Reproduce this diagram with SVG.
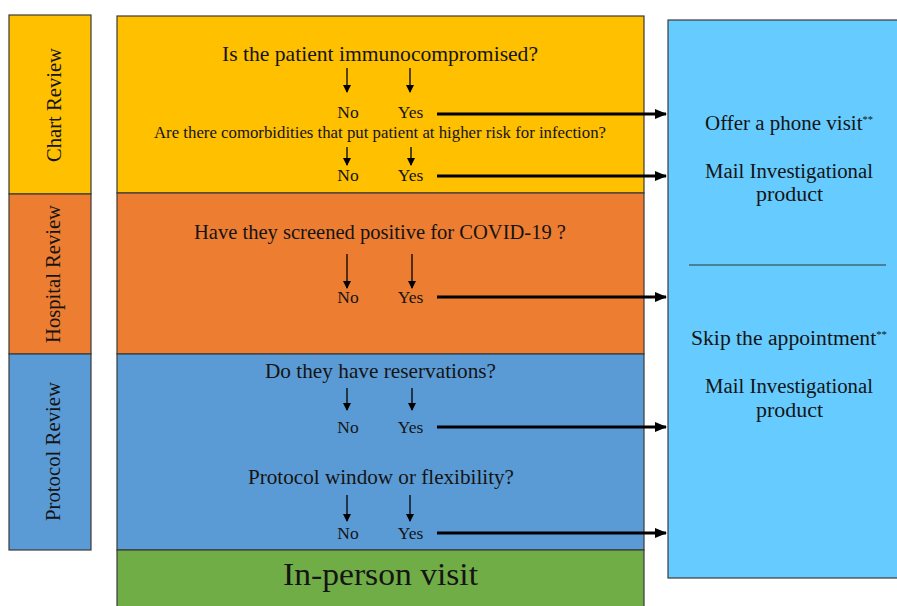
<svg xmlns="http://www.w3.org/2000/svg" width="897" height="606" viewBox="0 0 897 606">
<style>
text{font-family:"Liberation Serif","DejaVu Serif",serif;fill:#141414}
.box{stroke:#3a3a3a;stroke-width:1.2}
.q{font-size:21px;text-anchor:middle}
.yn{font-size:17.5px;text-anchor:middle}
.side{font-size:20px;text-anchor:middle}
.r{font-size:20px;text-anchor:middle}
.big{stroke:#000;stroke-width:3;fill:none}
.dn{stroke:#000;stroke-width:1.3;fill:none}
</style>
<defs>
<marker id="ah" markerWidth="8" markerHeight="8" refX="7" refY="4" orient="auto" markerUnits="userSpaceOnUse" viewBox="0 0 8 8"><path d="M0,0 L8,4 L0,8 z" fill="#000"/></marker>
<marker id="sh" markerWidth="12" markerHeight="12" refX="11" refY="6" orient="auto" markerUnits="userSpaceOnUse" viewBox="0 0 12 12"><path d="M0,1 L12,6 L0,11 z" fill="#000"/></marker>
</defs>
<rect width="897" height="606" fill="#fff"/>
<g id="side-chart"><rect class="box" x="9" y="15" width="82" height="179" fill="#FFC000"/><text class="side" transform="translate(61,105) rotate(-90)" textLength="114" lengthAdjust="spacingAndGlyphs">Chart Review</text></g>
<g id="side-hospital"><rect class="box" x="9" y="194" width="82" height="160" fill="#ED7D31"/><text class="side" transform="translate(60,274) rotate(-90)" textLength="138" lengthAdjust="spacingAndGlyphs">Hospital Review</text></g>
<g id="side-protocol"><rect class="box" x="9" y="354" width="82" height="196" fill="#5B9BD5"/><text class="side" transform="translate(60,451.5) rotate(-90)" textLength="139" lengthAdjust="spacingAndGlyphs">Protocol Review</text></g>
<g id="chart"><rect class="box" x="117" y="16" width="527" height="177" fill="#FFC000"/>
<text class="q" x="380" y="61" textLength="316" lengthAdjust="spacingAndGlyphs">Is the patient immunocompromised?</text>
<text class="yn" x="348" y="118">No</text><text class="yn" x="410.5" y="118">Yes</text>
<text x="380" y="138" style="font-size:16.5px;text-anchor:middle" textLength="452" lengthAdjust="spacingAndGlyphs">Are there comorbidities that put patient at higher risk for infection?</text>
<text class="yn" x="348" y="181">No</text><text class="yn" x="410.5" y="181">Yes</text></g>
<g id="hospital"><rect class="box" x="117" y="193" width="527" height="161" fill="#ED7D31"/>
<text class="q" x="380" y="239" textLength="372" lengthAdjust="spacingAndGlyphs">Have they screened positive for COVID-19 ?</text>
<text class="yn" x="348" y="303">No</text><text class="yn" x="410.5" y="303">Yes</text></g>
<g id="protocol"><rect class="box" x="117" y="354" width="527" height="196" fill="#5B9BD5"/>
<text class="q" x="380.5" y="378" textLength="231" lengthAdjust="spacingAndGlyphs">Do they have reservations?</text>
<text class="yn" x="348" y="433">No</text><text class="yn" x="410.5" y="433">Yes</text>
<text class="q" x="381" y="484" textLength="266" lengthAdjust="spacingAndGlyphs">Protocol window or flexibility?</text>
<text class="yn" x="348" y="539">No</text><text class="yn" x="410.5" y="539">Yes</text></g>
<g id="inperson"><rect class="box" x="117" y="550" width="527" height="60" fill="#70AD47"/>
<text x="380.5" y="585" style="font-size:32px;text-anchor:middle" textLength="195" lengthAdjust="spacingAndGlyphs">In-person visit</text></g>
<g id="outcome"><rect class="box" x="668" y="20" width="235" height="558" fill="#66CCFF"/>
<text class="r" x="789" y="130" textLength="168" lengthAdjust="spacingAndGlyphs">Offer a phone visit<tspan dy="-7" font-size="10">**</tspan></text>
<text class="r" x="789" y="178" textLength="168" lengthAdjust="spacingAndGlyphs">Mail Investigational</text>
<text class="r" x="789.5" y="201" textLength="67" lengthAdjust="spacingAndGlyphs">product</text>
<line x1="689" y1="265" x2="886" y2="265" stroke="#333" stroke-width="1.2"/>
<text class="r" x="789" y="345" textLength="196" lengthAdjust="spacingAndGlyphs">Skip the appointment<tspan dy="-7" font-size="10">**</tspan></text>
<text class="r" x="789" y="393" textLength="168" lengthAdjust="spacingAndGlyphs">Mail Investigational</text>
<text class="r" x="789.5" y="417" textLength="67" lengthAdjust="spacingAndGlyphs">product</text></g>
<g id="connectors">
<path class="dn" d="M347,68 V92" marker-end="url(#ah)"/><path class="dn" d="M410,68 V92" marker-end="url(#ah)"/>
<path class="dn" d="M347,147 V165" marker-end="url(#ah)"/><path class="dn" d="M411,147 V165" marker-end="url(#ah)"/>
<path class="dn" d="M347,254 V288" marker-end="url(#ah)"/><path class="dn" d="M412,254 V288" marker-end="url(#ah)"/>
<path class="dn" d="M347,388 V410" marker-end="url(#ah)"/><path class="dn" d="M412,388 V410" marker-end="url(#ah)"/>
<path class="dn" d="M347,495 V521" marker-end="url(#ah)"/><path class="dn" d="M410,495 V521" marker-end="url(#ah)"/>
<path class="big" d="M437,114 H666" marker-end="url(#sh)"/>
<path class="big" d="M437,176 H666" marker-end="url(#sh)"/>
<path class="big" d="M437,297 H666" marker-end="url(#sh)"/>
<path class="big" d="M437,427 H666" marker-end="url(#sh)"/>
<path class="big" d="M437,533 H666" marker-end="url(#sh)"/>
</g>
</svg>
